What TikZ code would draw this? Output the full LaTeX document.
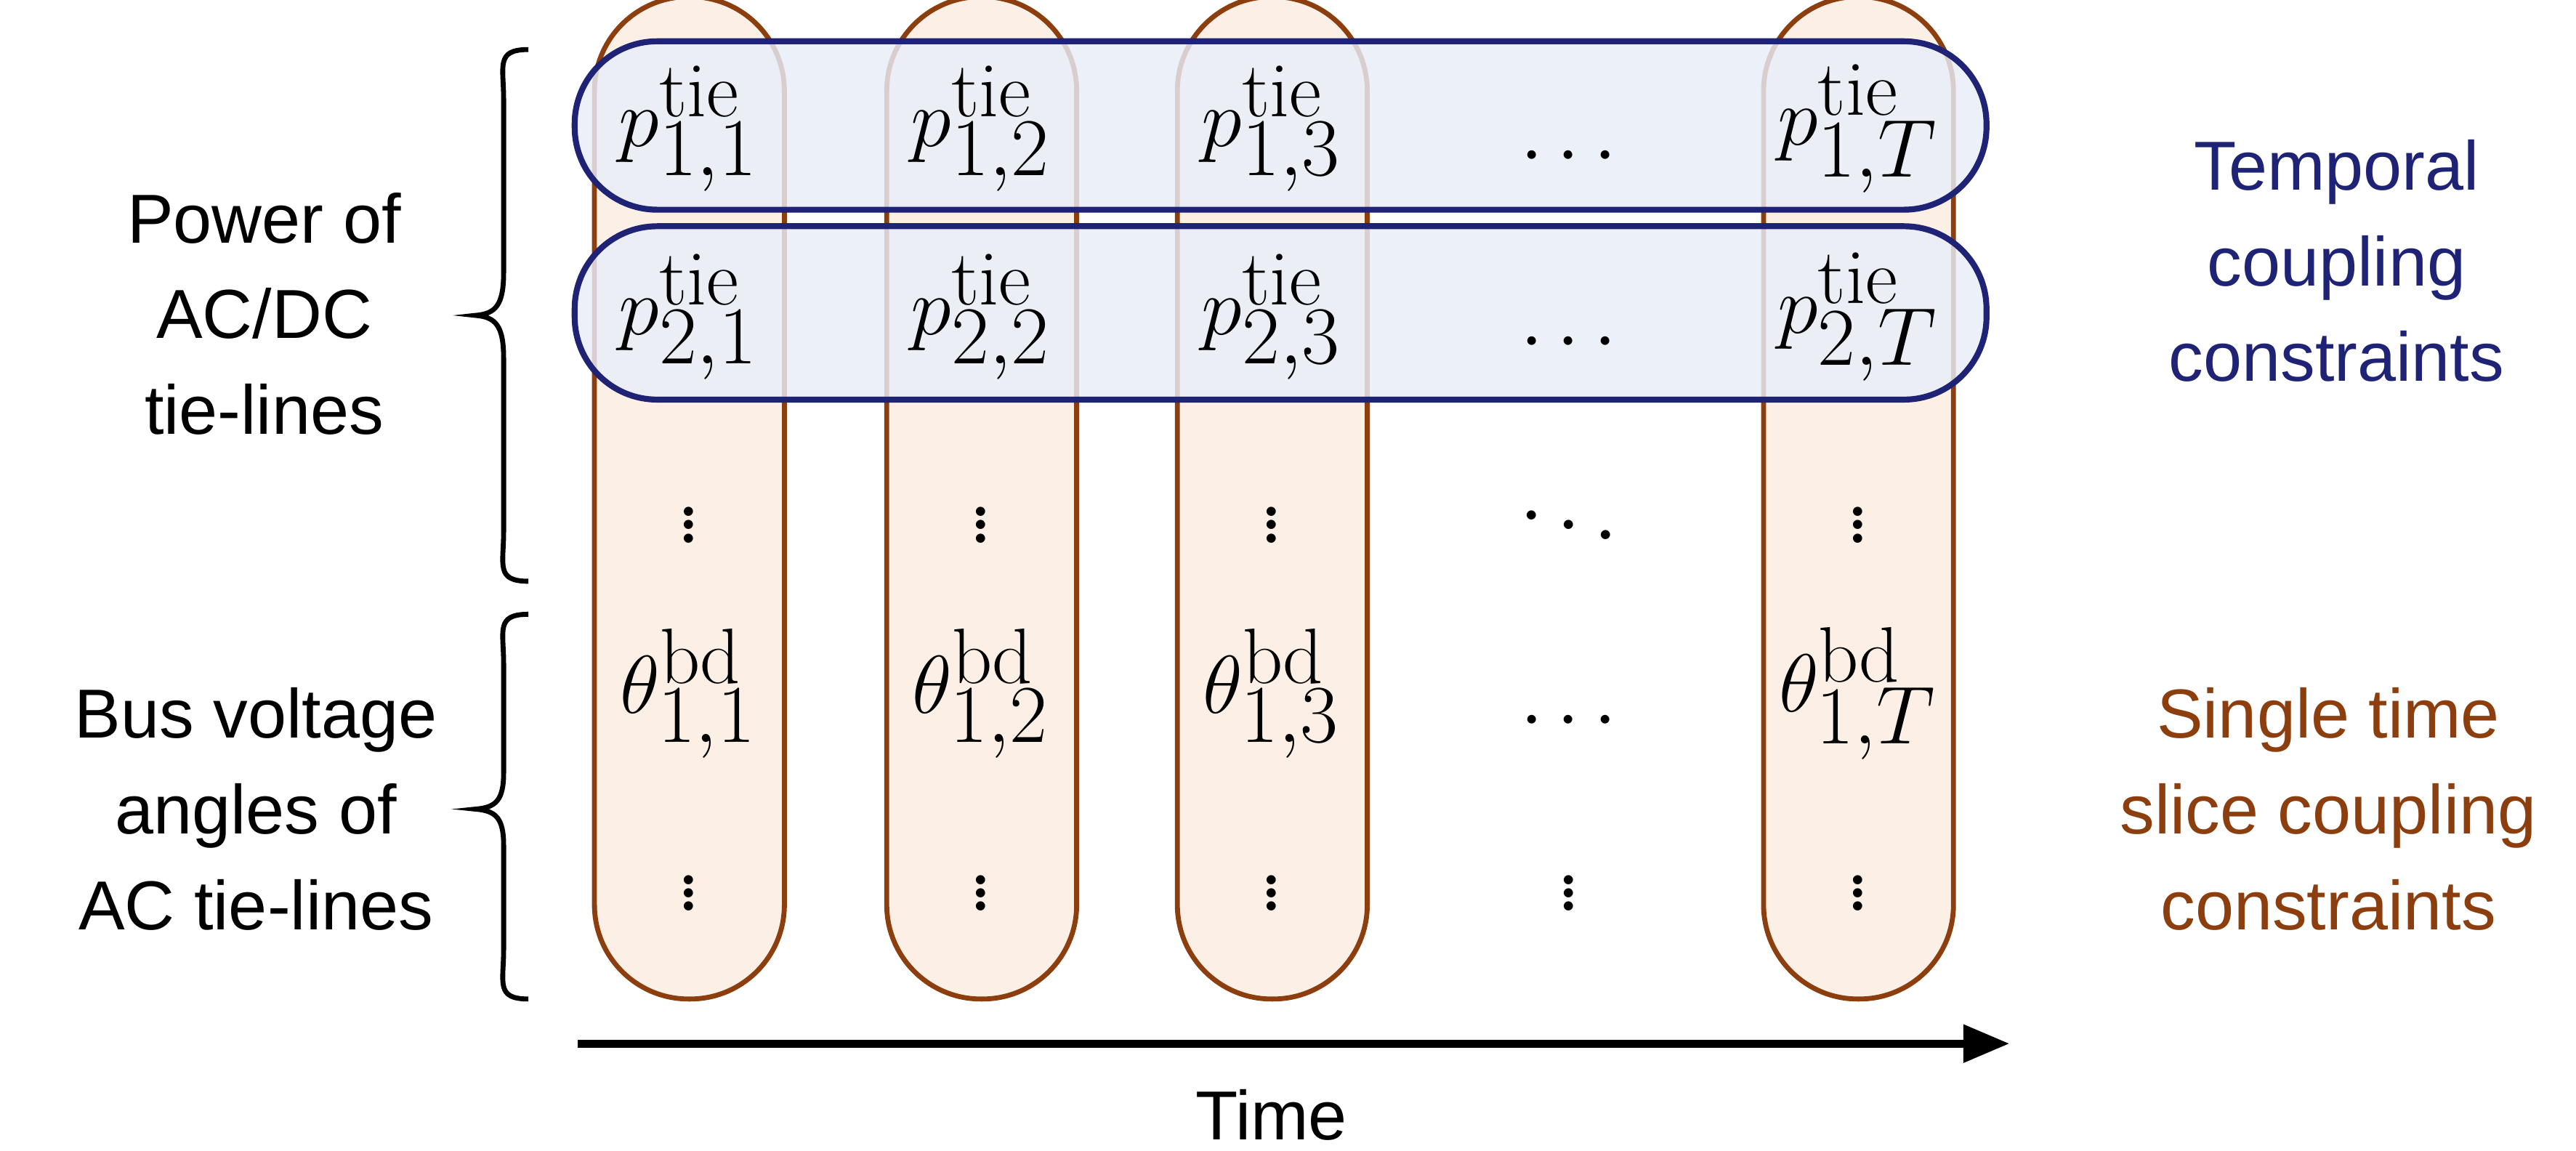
\documentclass[tikz,border=0pt]{standalone}
\usepackage{fontspec}
\setsansfont{Liberation Sans}
\usetikzlibrary{arrows.meta}
\definecolor{brn}{RGB}{140,62,14}
\definecolor{orf}{RGB}{252,240,230}
\definecolor{nav}{RGB}{31,35,117}
\definecolor{blf}{RGB}{232,238,248}
\tikzset{
 col/.style={draw=brn,line width=1.5pt,fill=orf,rounded corners=28.5pt},
 rowbox/.style={draw=nav,line width=1.8pt,fill=blf,fill opacity=0.82,rounded corners=25pt},
 mth/.style={font=\fontsize{34}{38}\selectfont},
 lab/.style={font=\sffamily\fontsize{21}{29}\selectfont,align=center},
}
\begin{document}
\begin{tikzpicture}[x=0.5pt,y=-0.5pt]
\useasboundingbox (0,0) rectangle (1560,697);
\foreach \a/\b in {360/475,537/652,713/828,1068/1183}{
 \path[col] (\a,-2) rectangle (\b,605);
}
\path[rowbox] (348,25) rectangle (1203,127);
\path[rowbox] (348,137) rectangle (1203,242);
\foreach \x/\t [count=\i] in {417/1,594/2,770/3,1125/T}{
 \node[mth] (a\i) at (\x,78) {$p^{\mathrm{tie}}_{1,\t}$};
 \node[mth] (b\i) at (\x,192) {$p^{\mathrm{tie}}_{2,\t}$};
 \node[mth] (c\i) at (\x,312) {$\vdots$};
 \node[mth] (d\i) at (\x,420) {$\theta^{\mathrm{bd}}_{1,\t}$};
 \node[mth] (e\i) at (\x,535) {$\vdots$};
}
\node[mth] (ah) at (950,95) {$\cdots$};
\node[mth] (bh) at (950,208) {$\cdots$};
\node[mth] (ch) at (950,312) {$\ddots$};
\node[mth] (dh) at (950,437) {$\cdots$};
\node[mth] (eh) at (950,535) {$\vdots$};
\draw[line width=1.5pt] (320,30) .. controls (300,30) and (305,40) .. (305,60) -- (305,165) .. controls (305,185) and (300,190) .. (288,191) .. controls (300,192) and (305,197) .. (305,217) -- (305,322) .. controls (305,342) and (300,352) .. (320,352);
\draw[line width=1.5pt] (320,372) .. controls (300,372) and (305,382) .. (305,402) -- (305,468) .. controls (305,485) and (300,489) .. (288,490) .. controls (300,491) and (305,495) .. (305,512) -- (305,575) .. controls (305,595) and (300,605) .. (320,605);
\node[lab] (pl) at (160,190) {Power of\\AC/DC\\tie-lines};
\node[lab] (bl) at (155,490) {Bus voltage\\angles of\\AC tie-lines};
\node[lab,text=nav] (tl) at (1415,158) {Temporal\\coupling\\constraints};
\node[lab,text=brn] (sl) at (1410,490) {Single time\\slice coupling\\constraints};
\coordinate (t0) at (350,632);
\coordinate (t1) at (1217,632);
\draw[line width=2.5pt,-{Triangle[length=14pt,width=11pt]}] (t0) -- (t1);
\node[lab] (tm) at (770,675) {Time};
\end{tikzpicture}
\end{document}
